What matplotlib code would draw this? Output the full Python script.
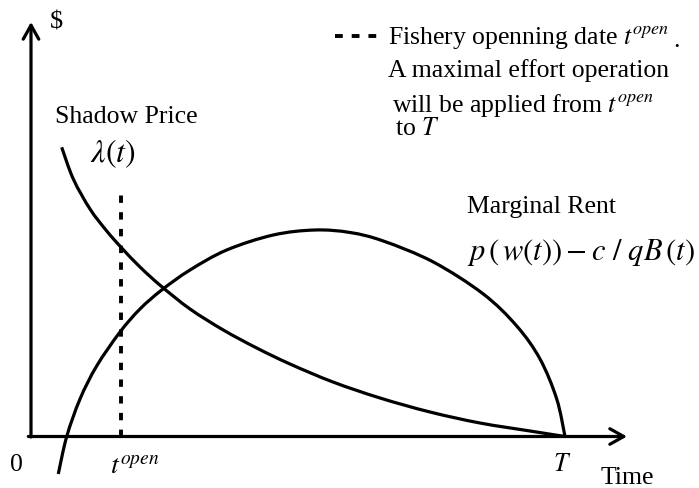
import matplotlib
matplotlib.use("Agg")
import matplotlib.pyplot as plt
import numpy as np
from matplotlib.path import Path
from matplotlib.patches import PathPatch

plt.rcParams['font.family'] = ['Liberation Serif', 'DejaVu Serif']
plt.rcParams['mathtext.fontset'] = 'stix'

# time axis: 0 .. T (T = 1)
T = 1.0
t_open = 0.1685

# shadow price lambda(t)
shadow_t = [0.0575, 0.0792, 0.1105, 0.1418, 0.1699, 0.2041, 0.2434, 0.2978,
            0.3601, 0.4227, 0.4850, 0.5655, 0.6536, 0.7472, 0.8408, 0.9345, 1.0]
shadow_v = [2.892, 2.575, 2.275, 2.055, 1.885, 1.695, 1.505, 1.275,
            1.065, 0.885, 0.725, 0.545, 0.385, 0.245, 0.135, 0.055, 0.0]

# marginal rent p(w(t)) - c/qB(t)
rent_t = [0.0511, 0.0669, 0.0918, 0.1230, 0.1667, 0.2041, 0.2448, 0.2978,
          0.3665, 0.4537, 0.5318, 0.5974, 0.6597, 0.7534, 0.8470, 0.9096,
          0.9532, 0.9845, 1.0]
rent_v = [-0.375, 0.0, 0.375, 0.705, 1.045, 1.275, 1.465, 1.665,
          1.865, 2.015, 2.065, 2.040, 1.955, 1.745, 1.425, 1.105,
          0.775, 0.375, 0.0]

open_top = 2.445
x_axis_end = 1.1161
y_axis_end = 4.145

W, H = 699, 489
fig = plt.figure(figsize=(W / 100, H / 100), dpi=100)
ax = fig.add_axes([0, 0, 1, 1])
ax.set_xlim(-31 / 534, (W - 31) / 534)
ax.set_ylim((437.5 - H) / 100, 437.5 / 100)
ax.axis('off')

lw = 2.3


def smooth_curve(xs, ys):
    """Smooth Bezier path passing through the given points (Catmull-Rom)."""
    p = np.column_stack([xs, ys])
    n = len(p)
    verts = [p[0]]
    codes = [Path.MOVETO]
    for i in range(n - 1):
        p0 = p[i - 1] if i > 0 else p[i]
        p1 = p[i]
        p2 = p[i + 1]
        p3 = p[i + 2] if i + 2 < n else p[i + 1]
        verts += [p1 + (p2 - p0) / 6, p2 - (p3 - p1) / 6, p2]
        codes += [Path.CURVE4] * 3
    return Path(verts, codes)


# axes with open arrow heads
arrow = dict(arrowstyle='->,head_length=0.5,head_width=0.28', lw=lw, color='black',
             shrinkA=0, shrinkB=0, mutation_scale=20)
ax.annotate('', xy=(x_axis_end, 0), xytext=(-0.005, 0), arrowprops=arrow)
ax.annotate('', xy=(0, y_axis_end), xytext=(0, -0.005), arrowprops=arrow)

for xs, ys in [(shadow_t, shadow_v), (rent_t, rent_v)]:
    ax.add_patch(PathPatch(smooth_curve(xs, ys), facecolor='none', edgecolor='black',
                           lw=lw, capstyle='butt', joinstyle='round'))

ax.plot([t_open, t_open], [0, open_top], color='black', lw=2.8, dashes=(1.9, 2.4))

# legend-like dashes
ax.plot([(335 - 31) / 534, (378 - 31) / 534], [(437.5 - 37) / 100] * 2,
        color='black', lw=2.8, dashes=(2.0, 2.3))


def ft(x, y, s, **kw):
    kw.setdefault('fontsize', 18.5)
    kw.setdefault('va', 'baseline')
    kw.setdefault('ha', 'left')
    fig.text(x / W, 1 - y / H, s, **kw)


ft(50, 28, r"\$", fontsize=19)
ft(55, 123, "Shadow Price")
ft(90, 162, r"$\lambda\left(t\right)$", fontsize=23)
ft(388, 44, r"Fishery openning date $t^{open}$")
ft(673, 47, ".")
ft(388, 77, "A maximal effort operation")
ft(392, 112, r"will be applied from $t^{open}$")
ft(395, 135, r"to $T$")
ft(467, 213, "Marginal Rent")
ft(467, 260, r"$p\,\left(\,w\left(t\right)\right)-c\ /\ qB\,\left(t\right)$", fontsize=22)
ft(10, 471, "0")
ft(110, 474, r"$t^{open}$", fontsize=20)
ft(553, 471, r"$T$")
ft(601, 484, "Time")

fig.savefig("out.png", dpi=100)
